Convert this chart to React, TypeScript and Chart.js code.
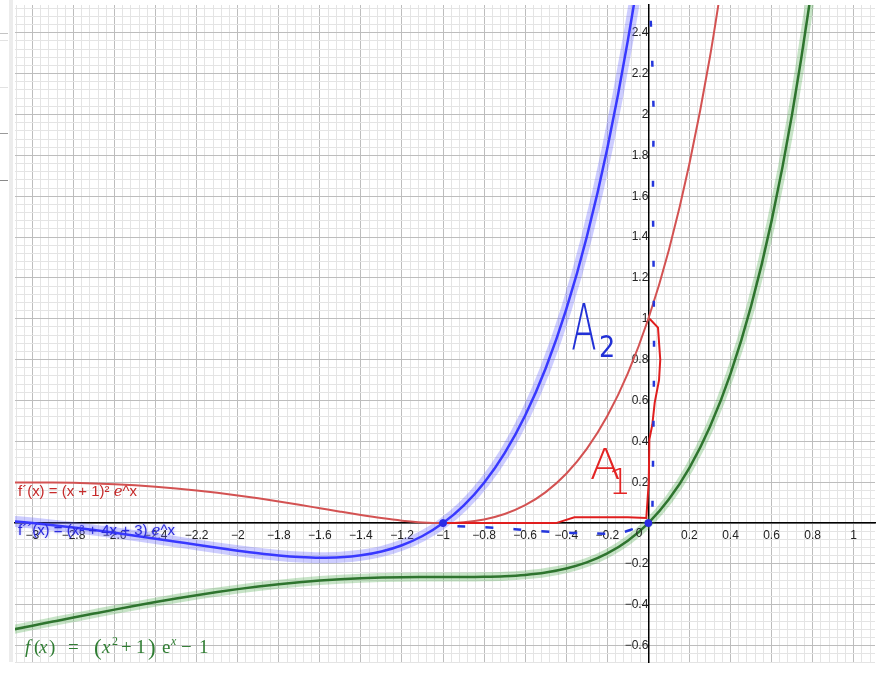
import React, { useEffect, useRef } from 'react';
import { Chart, registerables } from 'chart.js';

Chart.register(...registerables);

// ---- data ----
const xValues = [
  -3.1, -3.0, -2.9, -2.8, -2.7, -2.6, -2.5, -2.4, -2.3, -2.2,
  -2.1, -2.0, -1.9, -1.8, -1.7, -1.6, -1.5, -1.4, -1.3, -1.2,
  -1.1, -1.0, -0.9, -0.8, -0.7, -0.6, -0.5, -0.4, -0.3, -0.2,
  -0.1, 0, 0.1, 0.2, 0.3, 0.4, 0.5, 0.6, 0.7, 0.8, 0.9,
];

// f(x) = (x^2 + 1) e^x - 1   (green)
const fValues = [
  -0.5220, -0.5021, -0.4822, -0.4624, -0.4429, -0.4236, -0.4049, -0.3867, -0.3694, -0.3529,
  -0.3375, -0.3233, -0.3105, -0.2991, -0.2894, -0.2813, -0.2748, -0.2701, -0.2669, -0.2651,
  -0.2644, -0.2642, -0.2641, -0.2631, -0.2601, -0.2536, -0.2418, -0.2224, -0.1925, -0.1485,
  -0.0861, 0, 0.1162, 0.2703, 0.4713, 0.7305, 1.0609, 1.4781, 2.0005, 2.6499, 3.4519,
];

// f'(x) = (x + 1)^2 e^x   (red)
const f1Values = [
  0.1987, 0.1992, 0.1986, 0.1970, 0.1942, 0.1901, 0.1847, 0.1778, 0.1694, 0.1596,
  0.1482, 0.1353, 0.1212, 0.1058, 0.0895, 0.0727, 0.0558, 0.0395, 0.0245, 0.0120,
  0.0033, 0, 0.0041, 0.0180, 0.0447, 0.0878, 0.1516, 0.2413, 0.3630, 0.5240,
  0.7329, 1, 1.3373, 1.7588, 2.2813, 2.9240, null, null, null, null, null,
];

// f''(x) = (x^2 + 4x + 3) e^x   (blue)
const f2Values = [
  0.0095, 0, -0.0105, -0.0219, -0.0343, -0.0475, -0.0616, -0.0762, -0.0912, -0.1064,
  -0.1212, -0.1353, -0.1481, -0.1587, -0.1662, -0.1696, -0.1674, -0.1578, -0.1390, -0.1084,
  -0.0633, 0, 0.0854, 0.1977, 0.3426, 0.5269, 0.7582, 1.0457, 1.4002, 1.8340,
  2.3616, 3.0, 3.7686, null, null, null, null, null, null, null, null,
];

// hand-drawn red outline (A1 region)
const handRedX = [-1.0, -0.45, -0.36, -0.1, -0.01, 0.002, 0.005, 0.019, 0.031, 0.052, 0.058, 0.047, 0.006];
const handRedY = [0.0, 0.0, 0.028, 0.028, 0.025, 0.2, 0.41, 0.48, 0.59, 0.70, 0.80, 0.957, 1.0];

// hand-drawn blue dashes
const dashHX = [-0.93, -0.8, -0.65, -0.45, -0.3, -0.15, -0.06];
const dashHY = [-0.015, -0.02, -0.03, -0.045, -0.05, -0.05, -0.025];
const dashVX = [0.02, 0.024, 0.028, 0.026, 0.022, 0.026, 0.018, 0.008];
const dashVY = [0.08, 0.4, 0.8, 1.2, 1.6, 2.0, 2.3, 2.55];

// marked points
const pointX = [-1, 0];
const pointY = [0, 0];

const X_MIN = -3.085;
const X_MAX = 1.104;
const Y_MIN = -0.68;
const Y_MAX = 2.536;
const MINOR_STEP = 0.04;
const MAJOR_STEP = 0.2;

const toPts = (xs: number[], ys: (number | null)[]) => xs.map((x, i) => ({ x, y: ys[i] }));

const isMajor = (v: number) => Math.abs(v / MAJOR_STEP - Math.round(v / MAJOR_STEP)) < 1e-6;
const fmt = (v: number) => {
  const r = Math.round(v * 10) / 10;
  return (r < 0 ? '\u2212' : '') + String(Math.abs(r));
};

const SANS = '"Liberation Sans", Arial, "DejaVu Sans", sans-serif';
const SERIF = '"Liberation Serif", "DejaVu Serif", serif';

function fitText(ctx: CanvasRenderingContext2D, text: string, x: number, y: number, width: number) {
  const w = ctx.measureText(text).width;
  ctx.save();
  ctx.translate(x, y);
  ctx.scale(width / w, 1);
  ctx.fillText(text, 0, 0);
  ctx.restore();
}

const decorPlugin = {
  id: 'decor',
  beforeDraw(chart: any) {
    const { ctx, width, height, chartArea } = chart;
    ctx.save();
    ctx.fillStyle = '#ffffff';
    ctx.fillRect(0, 0, width, height);
    // left side panel remnants
    ctx.fillStyle = '#ececec';
    ctx.fillRect(9, 0, 4, chartArea.bottom);
    const lines: [number, string][] = [[33, '#c4c4c4'], [40, '#e2e2e2'], [87, '#e2e2e2'], [133, '#9a9a9a'], [180, '#8a8a8a']];
    for (const [yy, c] of lines) {
      ctx.fillStyle = c;
      ctx.fillRect(0, yy, 8, 1);
    }
    ctx.restore();
  },
  afterDraw(chart: any) {
    const { ctx, chartArea } = chart;
    const xs = chart.scales.x;
    const ys = chart.scales.y;
    ctx.save();
    // origin label
    ctx.font = '12px ' + SANS;
    ctx.fillStyle = '#222';
    ctx.textAlign = 'right';
    ctx.textBaseline = 'top';
    ctx.fillText('0', xs.getPixelForValue(0) - 6, ys.getPixelForValue(0) + 5);

    ctx.textAlign = 'left';
    ctx.textBaseline = 'alphabetic';
    const L = chartArea.left;
    // red f' label
    ctx.font = '15px ' + SANS;
    ctx.fillStyle = '#c62a2a';
    fitText(ctx, 'f\u00B4(x) = (x + 1)\u00B2 \u212F^x', L + 3, 496, 119);
    // blue f'' label
    ctx.fillStyle = '#2b2bdc';
    ctx.shadowColor = 'rgba(70,70,255,0.55)';
    ctx.shadowBlur = 3;
    fitText(ctx, 'f\u00B4\u00B4(x) = (x\u00B2 + 4x + 3) \u212F^x', L + 3, 535, 157);
    ctx.shadowBlur = 0;
    ctx.shadowColor = 'transparent';

    // green formula (LaTeX style)
    ctx.fillStyle = '#2f7d32';
    const base = 653;
    const it = 'italic 19px ' + SERIF;
    const up = '19px ' + SERIF;
    const big = '23px ' + SERIF;
    const sup = '12px ' + SERIF;
    const supIt = 'italic 12px ' + SERIF;
    const segs: [string, string, number, number][] = [
      ['f', it, 25, 0],
      ['(', up, 34, 0],
      ['x', it, 39, 0],
      [')', up, 49, 0],
      ['=', up, 68, 0],
      ['(', big, 94, 2],
      ['x', it, 102, 0],
      ['2', sup, 112, -8],
      ['+', up, 121, 0],
      ['1', up, 136, 0],
      [')', big, 148, 2],
      ['e', up, 162, 0],
      ['x', supIt, 171, -8],
      ['\u2212', up, 181, 0],
      ['1', up, 199, 0],
    ];
    for (const [t, f, px, dy] of segs) {
      ctx.font = f;
      ctx.fillText(t, px, base + dy);
    }

    // handwritten A2 (blue)
    ctx.fillStyle = '#2231d6';
    ctx.save();
    ctx.translate(xs.getPixelForValue(-0.375), ys.getPixelForValue(0.845));
    ctx.scale(0.58, 1);
    ctx.font = '200 64px "DejaVu Sans", sans-serif';
    ctx.fillText('A', 0, 0);
    ctx.restore();
    ctx.save();
    ctx.translate(xs.getPixelForValue(-0.24), ys.getPixelForValue(0.815));
    ctx.scale(0.85, 1);
    ctx.font = '30px "DejaVu Sans", sans-serif';
    ctx.fillText('2', 0, 0);
    ctx.restore();

    // handwritten A1 (red)
    ctx.fillStyle = '#e32424';
    ctx.save();
    ctx.translate(xs.getPixelForValue(-0.285), ys.getPixelForValue(0.215));
    ctx.scale(1.05, 1);
    ctx.font = '200 43px "DejaVu Sans", sans-serif';
    ctx.fillText('A', 0, 0);
    ctx.restore();
    ctx.save();
    ctx.translate(xs.getPixelForValue(-0.195), ys.getPixelForValue(0.14));
    ctx.font = '200 36px "DejaVu Sans", sans-serif';
    ctx.fillText('1', 0, 0);
    ctx.restore();

    ctx.restore();
  },
};

const resetPadding = (scale: any) => {
  scale.paddingLeft = 0;
  scale.paddingRight = 0;
  scale.paddingTop = 0;
  scale.paddingBottom = 0;
};

export default function App() {
  const canvasRef = useRef<HTMLCanvasElement | null>(null);

  useEffect(() => {
    if (!canvasRef.current) return;
    const chart = new Chart(canvasRef.current, {
      type: 'line',
      data: {
        datasets: [
          {
            label: 'points',
            data: toPts(pointX, pointY),
            showLine: false,
            pointRadius: 3.5,
            pointBackgroundColor: '#2a2ae6',
            pointBorderColor: '#2a2ae6',
            order: 1,
          },
          {
            label: 'dash v',
            data: toPts(dashVX, dashVY),
            borderColor: '#2436dc',
            borderWidth: 2.5,
            borderDash: [6, 34],
            pointRadius: 0,
            tension: 0,
            order: 2,
          },
          {
            label: 'dash h',
            data: toPts(dashHX, dashHY),
            borderColor: '#2436dc',
            borderWidth: 2.5,
            borderDash: [8, 20],
            pointRadius: 0,
            tension: 0.3,
            order: 2,
          },
          {
            label: 'hand red',
            data: toPts(handRedX, handRedY),
            borderColor: '#e01e1e',
            borderWidth: 2,
            pointRadius: 0,
            tension: 0,
            order: 3,
          },
          {
            label: "f'",
            data: toPts(xValues, f1Values),
            borderColor: '#d35252',
            borderWidth: 2,
            pointRadius: 0,
            cubicInterpolationMode: 'monotone',
            order: 6,
          },
          {
            label: "f''",
            data: toPts(xValues, f2Values),
            borderColor: '#3838ff',
            borderWidth: 2.5,
            pointRadius: 0,
            cubicInterpolationMode: 'monotone',
            order: 7,
          },
          {
            label: "f'' glow",
            data: toPts(xValues, f2Values),
            borderColor: 'rgba(100,100,255,0.32)',
            borderWidth: 11,
            pointRadius: 0,
            cubicInterpolationMode: 'monotone',
            order: 8,
          },
          {
            label: 'f',
            data: toPts(xValues, fValues),
            borderColor: '#2e742e',
            borderWidth: 2.5,
            pointRadius: 0,
            cubicInterpolationMode: 'monotone',
            order: 9,
          },
          {
            label: 'f glow',
            data: toPts(xValues, fValues),
            borderColor: 'rgba(80,170,80,0.32)',
            borderWidth: 9,
            pointRadius: 0,
            cubicInterpolationMode: 'monotone',
            order: 10,
          },
        ],
      } as any,
      options: {
        animation: false,
        responsive: true,
        maintainAspectRatio: false,
        events: [],
        layout: { padding: { left: 15, right: 0, top: 0, bottom: 26 } },
        plugins: {
          legend: { display: false },
          tooltip: { enabled: false },
        },
        scales: {
          x: {
            type: 'linear',
            min: X_MIN,
            max: X_MAX,
            position: { y: 0 } as any,
            afterFit: resetPadding,
            grid: {
              drawTicks: false,
              color: (c: any) => (isMajor(c.tick.value) ? '#bdbdbd' : '#e4e4e4'),
              lineWidth: 1,
            },
            border: { color: '#000', width: 1.5 },
            ticks: {
              stepSize: MINOR_STEP,
              includeBounds: false,
              autoSkip: false,
              maxRotation: 0,
              padding: 5,
              color: '#222',
              font: { size: 12, family: SANS },
              callback: (v: any) => {
                const n = Number(v);
                return isMajor(n) && Math.abs(n) > 1e-9 ? fmt(n) : '';
              },
            },
          },
          y: {
            type: 'linear',
            min: Y_MIN,
            max: Y_MAX,
            position: { x: 0 } as any,
            afterFit: resetPadding,
            grid: {
              drawTicks: false,
              color: (c: any) => (isMajor(c.tick.value) ? '#bdbdbd' : '#e4e4e4'),
              lineWidth: 1,
            },
            border: { color: '#000', width: 1.5 },
            ticks: {
              stepSize: MINOR_STEP,
              includeBounds: false,
              autoSkip: false,
              padding: 6,
              color: '#222',
              font: { size: 12, family: SANS },
              callback: (v: any) => {
                const n = Number(v);
                return isMajor(n) && Math.abs(n) > 1e-9 ? fmt(n) : '';
              },
            },
          },
        },
      } as any,
      plugins: [decorPlugin],
    });
    return () => chart.destroy();
  }, []);

  return (
    <div style={{ position: 'absolute', left: 0, top: 0, width: 880, height: 688, background: '#fff' }}>
      <canvas ref={canvasRef} />
    </div>
  );
}
